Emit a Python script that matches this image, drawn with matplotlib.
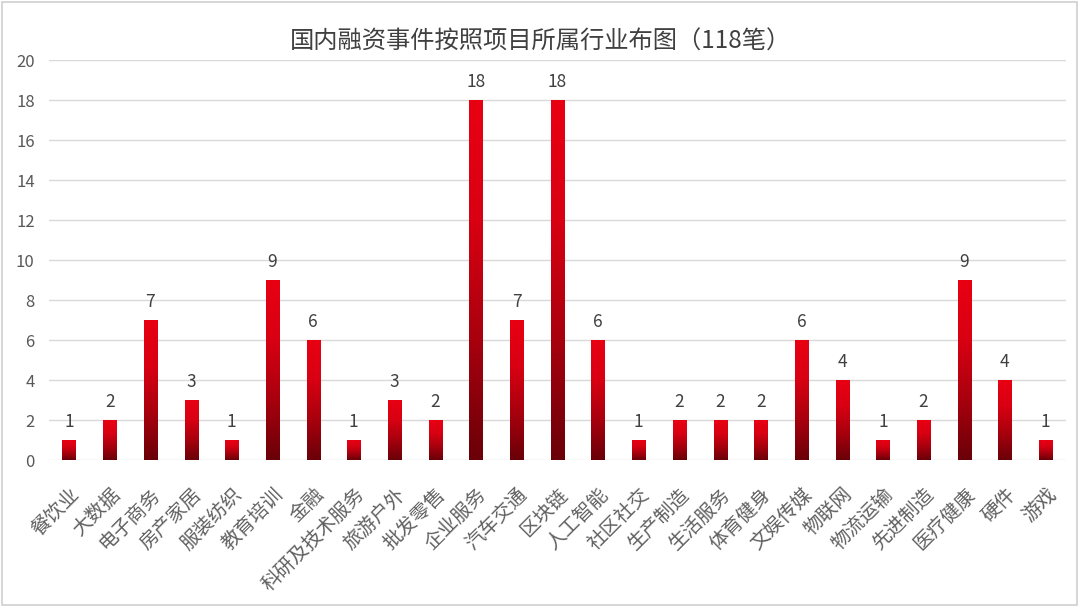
import matplotlib
matplotlib.use("Agg")
import matplotlib.pyplot as plt
import numpy as np
from matplotlib.colors import LinearSegmentedColormap
from matplotlib.patches import Rectangle

plt.rcParams['font.family'] = ['Noto Sans CJK SC', 'DejaVu Sans']

categories = ["餐饮业", "大数据", "电子商务", "房产家居", "服装纺织", "教育培训", "金融",
              "科研及技术服务", "旅游户外", "批发零售", "企业服务", "汽车交通", "区块链",
              "人工智能", "社区社交", "生产制造", "生活服务", "体育健身", "文娱传媒",
              "物联网", "物流运输", "先进制造", "医疗健康", "硬件", "游戏"]
values = [1, 2, 7, 3, 1, 9, 6, 1, 3, 2, 18, 7, 18, 6, 1, 2, 2, 2, 6, 4, 1, 2, 9, 4, 1]
title = "国内融资事件按照项目所属行业布图（118笔）"
yticks = [0, 2, 4, 6, 8, 10, 12, 14, 16, 18, 20]

fig = plt.figure(figsize=(10.8, 6.07), dpi=100)
fig.patches.append(Rectangle((0.002, 0.003), 0.995, 0.994, transform=fig.transFigure,
                             fill=False, edgecolor='#d0d0d0', lw=1.2))
ax = fig.add_axes([0.045, 0.242, 0.942, 0.659])

x = np.arange(len(categories))
bars = ax.bar(x, values, width=0.32, color='none', zorder=3)
cmap = LinearSegmentedColormap.from_list('rg', ['#6a0008', '#a8000e', '#d80012', '#e80012'])
grad = np.repeat(np.linspace(0, 1, 400).reshape(-1, 1), 4, axis=1)
for b in bars:
    x0, y0 = b.get_x(), b.get_y()
    w, h = b.get_width(), b.get_height()
    im = ax.imshow(grad, cmap=cmap, aspect='auto', origin='lower', interpolation='nearest',
                   interpolation_stage='rgba',
                   extent=(x0, x0 + w, y0, y0 + h), zorder=3)
    im.set_clip_path(b)

for xi, v in zip(x, values):
    ax.text(xi, v + 0.45, str(v), ha='center', va='bottom', fontsize=12.5, color='#404040')

ax.set_xlim(-0.5, len(categories) - 0.5)
ax.set_ylim(0, 20)
ax.set_yticks(yticks)
ax.set_yticklabels([str(t) for t in yticks], fontsize=12, color='#595959')
ax.set_xticks(x)
ax.set_xticklabels(categories, rotation=45, ha='right', rotation_mode='anchor',
                   fontsize=14, color='#606060', fontweight='light')
ax.tick_params(axis='both', length=0)
ax.tick_params(axis='x', pad=17)
ax.tick_params(axis='y', pad=10)
ax.grid(axis='y', color='#d9d9d9', lw=1, zorder=0)
ax.set_axisbelow(True)
for s in ax.spines.values():
    s.set_visible(False)

fig.text(0.5, 0.931, title, ha='center', va='center', fontsize=17.5, color='#404040')

fig.savefig('out.png', dpi=100)
